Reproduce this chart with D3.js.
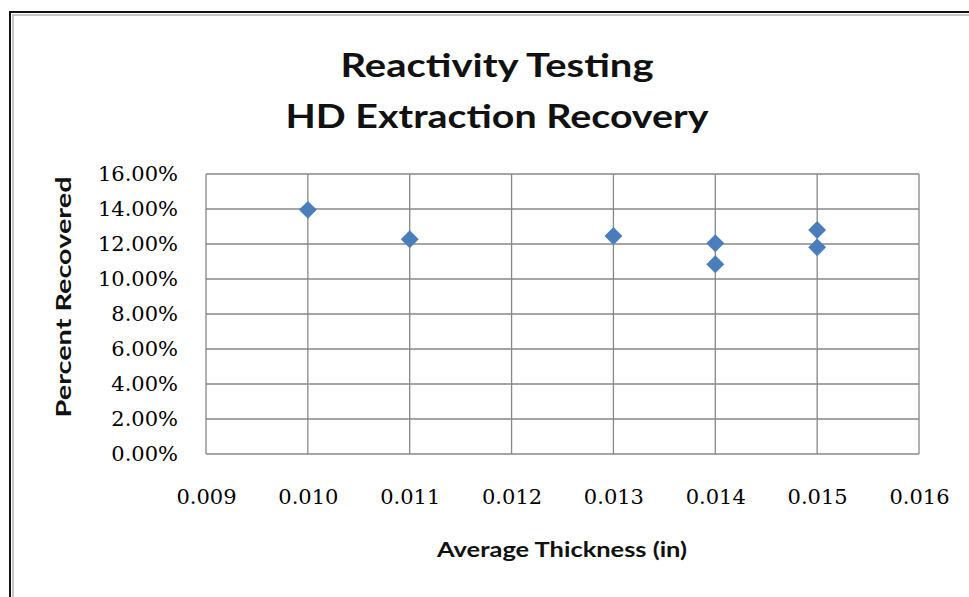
<!DOCTYPE html>
<html>
<head>
<meta charset="utf-8">
<script src="https://cdn.jsdelivr.net/npm/d3@7"></script>
<style>
  html, body { margin: 0; padding: 0; background: #fff; }
  svg { display: block; }
</style>
</head>
<body>
<svg id="chart" width="969" height="597"></svg>
<script>
// ---- data ----
const titleLines = ["Reactivity Testing", "HD Extraction Recovery"];
const xTitle = "Average Thickness (in)";
const yTitle = "Percent Recovered";
const thickness = [0.010, 0.011, 0.013, 0.014, 0.014, 0.015, 0.015];
const recovered = [0.1395, 0.1227, 0.1246, 0.1204, 0.1084, 0.1280, 0.1181];
const xTicks = [0.009, 0.010, 0.011, 0.012, 0.013, 0.014, 0.015, 0.016];
const yTicks = [0, 0.02, 0.04, 0.06, 0.08, 0.10, 0.12, 0.14, 0.16];

// ---- layout ----
const svg = d3.select("#chart");
const plot = { left: 206, right: 919, top: 174, bottom: 454 };

// frame
svg.append("rect").attr("x", 10).attr("y", 12).attr("width", 1000).attr("height", 700)
  .attr("fill", "none").attr("stroke", "#111").attr("stroke-width", 2);
svg.append("rect").attr("x", 13).attr("y", 15).attr("width", 1000).attr("height", 700)
  .attr("fill", "none").attr("stroke", "#b4b4b4").attr("stroke-width", 1.5);

const x = d3.scaleLinear().domain([0.009, 0.016]).range([plot.left, plot.right]);
const y = d3.scaleLinear().domain([0, 0.16]).range([plot.bottom, plot.top]);

// gridlines
const grid = svg.append("g").attr("stroke", "#878787").attr("stroke-width", 1.3);
grid.selectAll("line.h").data(yTicks).join("line")
  .attr("x1", plot.left).attr("x2", plot.right)
  .attr("y1", d => y(d)).attr("y2", d => y(d));
grid.selectAll("line.v").data(xTicks).join("line")
  .attr("y1", plot.top).attr("y2", plot.bottom)
  .attr("x1", d => x(d)).attr("x2", d => x(d));

// axes (labels only)
const yAxis = svg.append("g").attr("transform", `translate(${plot.left},0)`)
  .call(d3.axisLeft(y).tickValues(yTicks).tickFormat(d3.format(".2%")).tickSize(0).tickPadding(28));
const xAxis = svg.append("g").attr("transform", `translate(0,${plot.bottom})`)
  .call(d3.axisBottom(x).tickValues(xTicks).tickFormat(d3.format(".3f")).tickSize(0).tickPadding(35));
[yAxis, xAxis].forEach(a => {
  a.select(".domain").remove();
  a.selectAll("text").attr("font-family", "'DejaVu Serif', serif").attr("font-size", 21)
    .attr("fill", "#000");
});

// points (rotated squares = Excel diamonds)
const sq = d3.symbol().type(d3.symbolSquare).size(160);
svg.append("g").selectAll("path").data(thickness).join("path")
  .attr("d", sq)
  .attr("transform", (d, i) => `translate(${x(d)},${y(recovered[i])}) rotate(45)`)
  .attr("fill", "#4a7ebb");

// titles
const sans = "Lato, 'Open Sans', sans-serif";
svg.append("text").attr("x", 497).attr("y", 77).attr("text-anchor", "middle")
  .attr("font-family", sans).attr("font-weight", "bold").attr("font-size", 33)
  .attr("textLength", 313).attr("lengthAdjust", "spacingAndGlyphs")
  .attr("fill", "#111").text(titleLines[0]);
svg.append("text").attr("x", 497).attr("y", 128).attr("text-anchor", "middle")
  .attr("font-family", sans).attr("font-weight", "bold").attr("font-size", 33)
  .attr("textLength", 423).attr("lengthAdjust", "spacingAndGlyphs")
  .attr("fill", "#111").text(titleLines[1]);

svg.append("text").attr("x", 562).attr("y", 557).attr("text-anchor", "middle")
  .attr("font-family", sans).attr("font-weight", "bold").attr("font-size", 20)
  .attr("textLength", 250).attr("lengthAdjust", "spacingAndGlyphs")
  .attr("fill", "#111").text(xTitle);
svg.append("text").attr("transform", "translate(71,297) rotate(-90)").attr("text-anchor", "middle")
  .attr("font-family", sans).attr("font-weight", "bold").attr("font-size", 20)
  .attr("textLength", 241).attr("lengthAdjust", "spacingAndGlyphs")
  .attr("fill", "#111").text(yTitle);
</script>
</body>
</html>
